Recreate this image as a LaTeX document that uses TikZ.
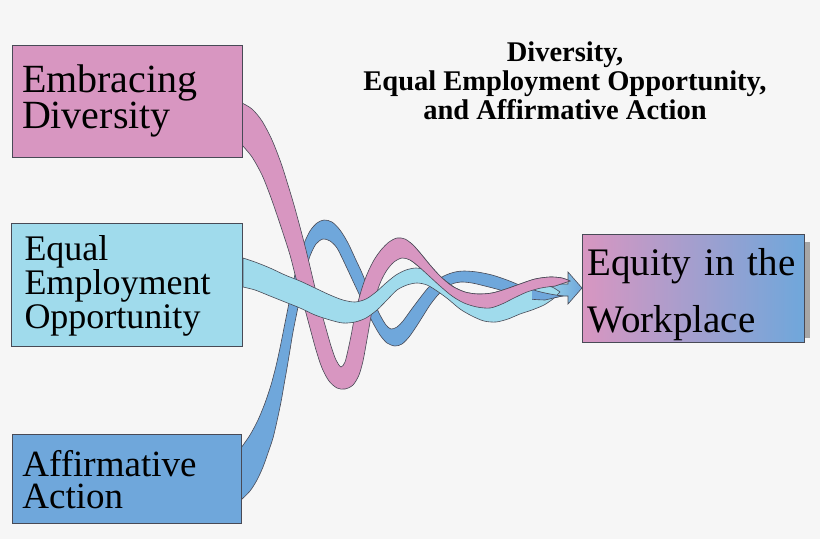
\documentclass[tikz,border=0pt]{standalone}
\usepackage{fontspec}
\newfontfamily\garafont{Liberation Serif}
\usetikzlibrary{positioning}
\setlength{\lineskiplimit}{-50pt}

\definecolor{divpink}{RGB}{216,150,193}
\definecolor{eeoblue}{RGB}{160,219,236}
\definecolor{aablue}{RGB}{111,167,219}
\definecolor{edgegray}{RGB}{72,74,86}
\definecolor{backgray}{RGB}{246,246,246}

\newcommand{\divribbon}{plot[smooth,tension=0.5] coordinates {(242,103) (252,109) (262,121) (272,140) (281,163) (288,185) (294,205) (300,227) (306,250) (312,275) (318,300) (325,325) (331,346) (336,360) (341,367) (345,362) (348,350) (351,336) (354,320) (358,302) (363,285) (368,272) (374,260) (381,250) (389,242) (397,238) (405,239) (413,245) (421,254) (430,265) (440,276) (452,286) (465,292) (478,294) (492,293) (506,289) (520,284) (535,279) (550,277) (562,278) (570,281)}
  -- plot[smooth,tension=0.5] coordinates {(555,286) (541,288) (527,292) (514,298) (502,304) (490,308) (477,307) (464,303) (452,296) (440,286) (428,275) (418,266) (410,260) (402,258) (394,262) (387,270) (381,281) (376,295) (372,311) (369,328) (366,345) (363,361) (359,375) (353,385) (345,389) (337,388) (329,381) (322,368) (316,350) (310,328) (303,302) (296,278) (290,255) (283,233) (277,215) (270,195) (262,175) (252,157) (242,145)} -- cycle}
\newcommand{\aaribbon}{plot[smooth,tension=0.5] coordinates {(241,448) (250,435) (258,420) (265,403) (271,385) (276,366) (280,348) (284,328) (288,308) (292,288) (297,266) (303,246) (310,231) (317,223) (324,220) (332,222) (340,230) (348,243) (355,258) (362,273) (368,288) (374,302) (380,315) (386,325) (391,329) (397,327) (403,321) (411,310) (420,298) (428,288) (437,280) (446,275) (455,272) (464,271) (477,272) (492,275) (507,280) (522,286) (537,291) (550,294) (562,296)}
  -- plot[smooth,tension=0.5] coordinates {(545,300) (530,299) (515,295) (500,290) (485,286) (472,283) (461,282) (452,284) (444,289) (437,296) (430,305) (423,316) (416,327) (409,337) (402,344) (395,346) (387,343) (380,335) (373,323) (366,309) (359,294) (352,279) (345,264) (337,248) (330,241) (323,239) (316,244) (310,256) (305,273) (301,292) (297,312) (293,332) (290,350) (287,368) (284,385) (281,402) (277,421) (273,438) (268,453) (263,467) (257,480) (250,491) (241,500)} -- cycle}
\newcommand{\eeoribbon}{plot[smooth,tension=0.5] coordinates {(243,258) (255,262) (270,268) (285,275) (300,281) (315,288) (330,295) (343,300) (355,302) (366,299) (376,292) (386,283) (396,275) (406,270) (416,268) (426,270) (436,275) (447,282) (458,290) (470,297) (482,302) (494,303) (506,300) (518,294) (530,289) (542,286) (552,287) (560,292)}
  -- plot[smooth,tension=0.5] coordinates {(553,299) (544,305) (532,310) (520,314) (508,319) (496,322) (484,321) (472,316) (460,309) (448,299) (437,291) (427,285) (417,283) (407,285) (397,290) (387,300) (377,310) (366,318) (355,322) (343,323) (330,320) (315,315) (300,308) (285,302) (270,296) (255,290) (243,287)} -- cycle}

\begin{document}
\begin{tikzpicture}[x=1pt,y=-1pt,semithick,
                    ribbon/.style={draw=edgegray,line width=0.6pt,fill=#1},
                    edge/.style={draw=edgegray,line width=0.6pt}]
      \tikzstyle{block}=[rectangle,draw=edgegray,line width=0.9pt,align=left,inner ysep=2pt]

      \fill[backgray] (0,0) rectangle (820,539);
      \useasboundingbox (0,0) rectangle (820,539);

      \coordinate (tip) at (582,288);
      \shade[left color=eeoblue,right color=aablue] (540,284) -- (568,284) -- (568,272)
            -- (tip) -- (568,304) -- (568,296) -- (540,296) -- cycle;
      \draw[edge] (540,284) -- (568,284) -- (568,272) -- (tip) -- (568,304)
            -- (568,296) -- (540,296);

      \filldraw[ribbon=aablue] \aaribbon;
      \filldraw[ribbon=divpink] \divribbon;
      \filldraw[ribbon=eeoblue] \eeoribbon;
      \begin{scope}
        \clip (532,250) rectangle (580,320);
        \filldraw[ribbon=aablue] \aaribbon;
      \end{scope}
      \begin{scope}
        \clip (410,200) rectangle (580,340);
        \filldraw[ribbon=divpink] \divribbon;
      \end{scope}

      \fill[gray!70] (804,242) rectangle (810,338);

      \node[block] (diversity) [fill=divpink,text width=210pt,inner xsep=10pt,minimum height=112pt,
            font=\garafont\fontsize{40}{32}\selectfont] at (127,101) {Embracing\\Diversity};
      \node[block] (EEO) [fill=eeoblue,text width=205pt,inner xsep=13pt,minimum height=123pt,
            font=\garafont\fontsize{36}{34}\selectfont,below=66pt of diversity] {Equal\\Employment\\Opportunity};
      \node[block] (AA) [fill=aablue,text width=209pt,inner xsep=10pt,minimum height=89pt,
            font=\garafont\fontsize{37}{32}\selectfont,below=87pt of EEO] {Affirmative\\Action};
      \node[block] (equity) [left color=divpink,middle color=eeoblue,right color=aablue,
            text width=212pt,inner xsep=5pt,minimum height=108pt,text height=26pt,text depth=52pt,
            font=\garafont\fontsize{39}{57}\selectfont] at (tip) [anchor=west] {Equity in the\\Workplace};

      \node[font=\garafont\fontsize{28.5}{29}\selectfont\bfseries,align=center] (title) at (565,81)
            {Diversity,\\Equal Employment Opportunity,\\and Affirmative Action};
\end{tikzpicture}
\end{document}
